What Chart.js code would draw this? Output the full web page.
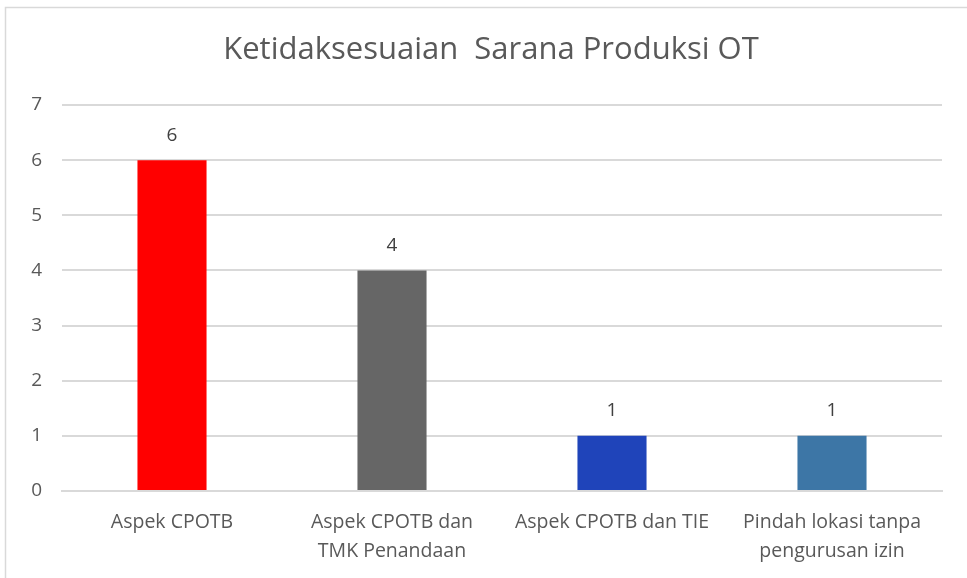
<!DOCTYPE html>
<html>
<head>
<meta charset="utf-8">
<script src="https://cdn.jsdelivr.net/npm/chart.js@4/dist/chart.umd.min.js"></script>
<style>
html,body{margin:0;padding:0;background:#fff;}
#wrap{position:relative;width:967px;height:578px;}
</style>
</head>
<body>
<div id="wrap"><canvas id="c" width="967" height="578"></canvas></div>
<script>
const chartTitle = 'Ketidaksesuaian  Sarana Produksi OT';
const categories = [
  'Aspek CPOTB',
  ['Aspek CPOTB dan', 'TMK Penandaan'],
  'Aspek CPOTB dan TIE',
  ['Pindah lokasi tanpa', 'pengurusan izin']
];
const values = [6, 4, 1, 1];
const barColors = ['#FF0000', '#666666', '#1F44BA', '#3D76A6'];
const yTicks = [0, 1, 2, 3, 4, 5, 6, 7];

const FONT = '"Open Sans", sans-serif';
const TXT = '#595959';

const frame = {
  id: 'frame',
  beforeDraw(chart) {
    const ctx = chart.ctx;
    ctx.save();
    ctx.strokeStyle = '#d9d9d9';
    ctx.lineWidth = 1.5;
    ctx.beginPath();
    ctx.moveTo(5.5, 580);
    ctx.lineTo(5.5, 7.5);
    ctx.lineTo(970, 7.5);
    ctx.stroke();
    ctx.restore();
  }
};

const dataLabels = {
  id: 'dataLabels',
  afterDatasetsDraw(chart) {
    const ctx = chart.ctx;
    const meta = chart.getDatasetMeta(0);
    ctx.save();
    ctx.font = '19px ' + FONT;
    ctx.fillStyle = '#404040';
    ctx.textAlign = 'center';
    ctx.textBaseline = 'middle';
    meta.data.forEach((bar, i) => {
      ctx.fillText(String(values[i]), bar.x, bar.y - 25);
    });
    ctx.restore();
  }
};

const titlePlugin = {
  id: 'titleText',
  afterDraw(chart) {
    const ctx = chart.ctx;
    ctx.save();
    ctx.font = '31px ' + FONT;
    ctx.fillStyle = TXT;
    ctx.textAlign = 'center';
    ctx.textBaseline = 'middle';
    ctx.fillText(chartTitle, 491, 50);
    ctx.restore();
  }
};

new Chart(document.getElementById('c'), {
  type: 'bar',
  data: {
    labels: categories,
    datasets: [{
      data: values,
      backgroundColor: barColors,
      borderWidth: 0,
      categoryPercentage: 1,
      barPercentage: 0.314
    }]
  },
  options: {
    responsive: false,
    animation: false,
    devicePixelRatio: 1,
    layout: { padding: { left: 0, right: 25, top: 105, bottom: 0 } },
    plugins: {
      legend: { display: false },
      tooltip: { enabled: false },
      title: { display: false }
    },
    scales: {
      x: {
        grid: { display: false, drawTicks: false },
        border: { display: true, color: '#d9d9d9', width: 2 },
        ticks: {
          color: TXT,
          font: { family: FONT, size: 19.5, lineHeight: 1.5 },
          padding: 17,
          maxRotation: 0,
          autoSkip: false
        },
        afterFit(s) { s.height = 87; }
      },
      y: {
        min: 0,
        max: 7,
        afterBuildTicks(s) { s.ticks = yTicks.map(v => ({ value: v })); },
        grid: { color: '#d9d9d9', lineWidth: 2, drawTicks: false },
        border: { display: false },
        ticks: {
          color: TXT,
          font: { family: FONT, size: 19 },
          padding: 20,
          stepSize: 1
        },
        afterFit(s) { s.width = 62; }
      }
    }
  },
  plugins: [frame, dataLabels, titlePlugin]
});
</script>
</body>
</html>
